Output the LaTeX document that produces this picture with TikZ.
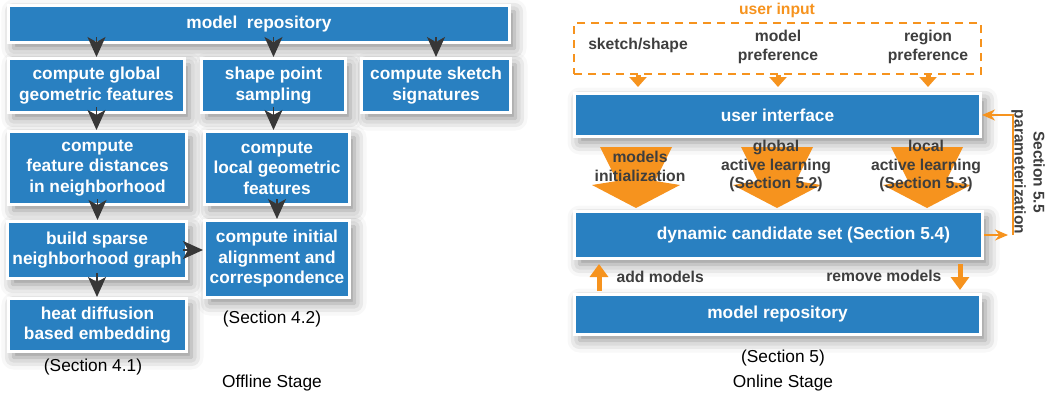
\documentclass[tikz,border=0pt]{standalone}
\usepackage{fontspec}
\setmainfont{Liberation Sans}
\usetikzlibrary{arrows.meta, shadows.blur}
\definecolor{boxblue}{RGB}{41,128,193}
\definecolor{arrowgray}{RGB}{55,55,55}
\definecolor{userorange}{RGB}{246,147,30}
\definecolor{labelgray}{RGB}{62,62,62}
\tikzset{>=stealth,
  stage/.style={fill=boxblue, draw=white, line width=3pt, text=white, align=center, inner sep=0pt,
    font=\fontsize{17.3}{20.5}\selectfont\bfseries,
    blur shadow={shadow xshift=5pt, shadow yshift=-6pt, shadow blur radius=12pt, shadow opacity=45}},
  darrow/.style={-{Stealth[length=20pt,width=18pt,inset=5pt]}, arrowgray, line width=1.5pt},
  oarrow/.style={-{Triangle[length=10pt,width=17pt]}, userorange, line width=5pt},
  fb/.style={userorange, line width=1.5pt},
  note/.style={font=\fontsize{17.3}{20}\selectfont},
  input/.style={labelgray, align=center, font=\fontsize{15.7}{18.8}\selectfont\bfseries}}

\begin{document}
\begin{tikzpicture}[x=1pt,y=-1pt]
\useasboundingbox (0,0) rectangle (1046,399);

\node[stage, minimum width=501pt, minimum height=37pt] (repoL) at (259,24) {model~ repository};
\node[stage, minimum width=176pt, minimum height=54pt] (globalF) at (96.5,85.5) {compute global\\geometric features};
\node[stage, minimum width=144pt, minimum height=54pt] (sampling) at (273.5,85.5) {shape point\\sampling};
\node[stage, minimum width=149pt, minimum height=54pt] (sketchSig) at (436,85.5) {compute sketch\\signatures};
\node[stage, minimum width=178pt, minimum height=73pt] (featDist) at (97.5,168) {compute\\feature distances\\in neighborhood};
\node[stage, minimum width=145pt, minimum height=73pt] (localF) at (277,168) {compute\\local geometric\\features};
\node[stage, minimum width=179pt, minimum height=57pt] (sparse) at (97,250) {build sparse\\neighborhood graph};
\node[stage, minimum width=145pt, minimum height=77pt] (align) at (277,259) {compute initial\\alignment and\\correspondence};
\node[stage, minimum width=178pt, minimum height=53pt] (heat) at (97.5,325) {heat diffusion\\based embedding};

\foreach \b in {globalF, sampling, sketchSig}
\draw[darrow] ([yshift=7pt]repoL.south -| \b.north) -- (\b.north);
\foreach \a/\b in {globalF/featDist, sampling/localF, featDist/sparse, localF/align, sparse/heat}
\draw[darrow] ([yshift=7pt]\a.south) -- (\a.south |- \b.north);
\draw[darrow] ([xshift=-5pt]sparse.east) -- (sparse.east -| align.west);

\node[note] (sec41) at (93,367) {(Section 4.1)};
\node[note] (sec42) at (272,319) {(Section 4.2)};
\node[note] (offline) at (272,383) {Offline Stage};

\node[draw=userorange, line width=2pt, dash pattern=on 8pt off 6pt, minimum width=407pt, minimum height=51pt] (input) at (777.5,48.5) {};
\node[input, text=userorange] (inputTitle) at (777,10) {user input};
\node[input] (sketch) at (638,45) {sketch/shape};
\node[input] (modelPref) at (778,47) {model\\preference};
\node[input] (regionPref) at (928,47) {region\\preference};

\node[stage, minimum width=406pt, minimum height=43pt] (ui) at (777.5,115) {user interface};
\node[stage, minimum width=408pt, minimum height=47pt] (dyn) at (778.5,235) {\hspace*{50pt}dynamic candidate set (Section 5.4)};
\node[stage, minimum width=406pt, minimum height=40pt] (repoR) at (777.5,314.5) {model repository};

\foreach \n in {sketch, modelPref, regionPref}
\draw[oarrow] (input.south -| \n) -- ([yshift=5pt]ui.north -| \n);

\foreach \cx in {636,777,927}
\fill[userorange] (\cx-36,147) -- (\cx+36,147) -- (\cx+19,181) -- (\cx+44,185) -- (\cx,208) -- (\cx-44,185) -- (\cx-19,181) -- cycle;
\node[input] (initLbl) at (640,166) {models\\initialization};
\node[input] (globalLbl) at (776,166) {global\\active learning\\(Section 5.2)};
\node[input] (localLbl) at (926,166) {local\\active learning\\(Section 5.3)};

\coordinate (addX) at (599,0);
\coordinate (remX) at (960,0);
\draw[oarrow, -{Triangle[length=13pt,width=18pt]}] ([yshift=2pt]repoR.north -| addX) -- ([yshift=-4pt]dyn.south -| addX);
\draw[oarrow, -{Triangle[length=13pt,width=18pt]}] ([yshift=-4pt]dyn.south -| remX) -- ([yshift=3pt]repoR.north -| remX);
\node[input, anchor=west] (addLbl) at (613,277) {add models};
\node[input, anchor=east] (remLbl) at (945,276) {remove models};

\coordinate (fbX) at (1013,0);
\draw[fb, -{Stealth[length=13pt,width=11pt]}] (dyn.east) -- ([xshift=-5pt]dyn.east -| fbX);
\draw[fb, -{Stealth[length=13pt,width=11pt]}] (dyn.east -| fbX) -- (ui.east -| fbX) -- (ui.east);
\node[input, rotate=-90, font=\fontsize{15.5}{19}\selectfont\bfseries] (paramLbl) at (1028,172) {Section 5.5\\parameterization};

\node[note] (sec5) at (783,358) {(Section 5)};
\node[note] (online) at (783,383) {Online Stage};
\end{tikzpicture}
\end{document}
